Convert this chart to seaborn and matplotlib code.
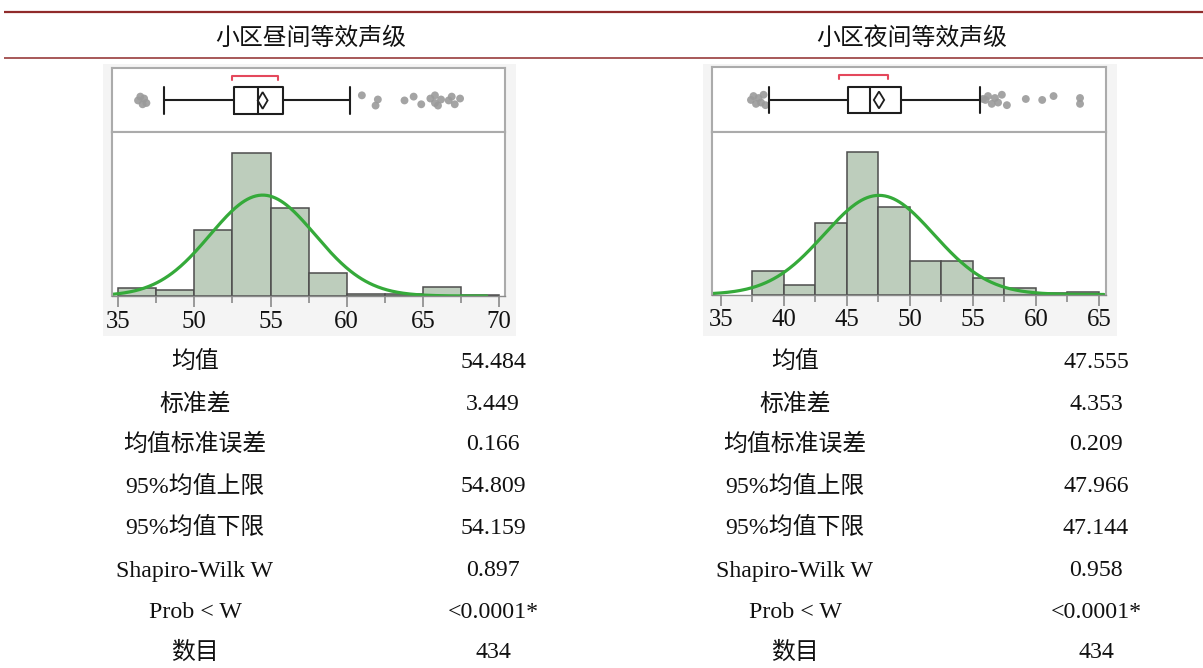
import numpy as np
import matplotlib
matplotlib.use("Agg")
import matplotlib.pyplot as plt
import seaborn as sns
from matplotlib.patches import Rectangle, Polygon

# ---------------- data ----------------
titles = ["小区昼间等效声级", "小区夜间等效声级"]

day_bin_edges = [45, 47.5, 50, 52.5, 55, 57.5, 60, 62.5, 65, 67.5, 70]
day_counts = [10, 8, 82, 178, 110, 28, 3, 3, 11, 1]
day_tick_values = [45, 50, 55, 60, 65, 70]
day_tick_labels = ["35", "50", "55", "60", "65", "70"]

night_bin_edges = [37.5, 40, 42.5, 45, 47.5, 50, 52.5, 55, 57.5, 60, 62.5, 65]
night_counts = [24, 10, 72, 143, 88, 34, 34, 17, 7, 2, 3]
night_tick_values = [35, 40, 45, 50, 55, 60, 65]
night_tick_labels = ["35", "40", "45", "50", "55", "60", "65"]

day_mean, day_sd, day_n = 54.484, 3.449, 434
night_mean, night_sd, night_n = 47.555, 4.353, 434
day_ci = [54.159, 54.809]
night_ci = [47.144, 47.966]

# box summaries: whisker low, q1, median, q3, whisker high
day_box = [48.0, 52.6, 54.2, 55.8, 60.2]
night_box = [38.8, 45.1, 46.85, 49.3, 55.6]
day_short_half = [52.5, 55.5]
night_short_half = [44.4, 48.3]
day_outliers = [46.3, 46.45, 46.6, 46.7, 46.85, 61.0, 61.9, 62.05, 63.8, 64.4, 64.9,
                65.5, 65.8, 65.8, 66.0, 66.2, 66.7, 66.9, 67.1, 67.45]
night_outliers = [37.4, 37.6, 37.8, 38.0, 38.2, 38.4, 38.55, 55.8, 56.0, 56.2, 56.5,
                  56.75, 57.0, 57.3, 57.7, 59.2, 60.5, 61.4, 63.5, 63.5]

stat_labels = ["均值", "标准差", "均值标准误差", "95%均值上限", "95%均值下限",
               "Shapiro-Wilk W", "Prob < W", "数目"]
day_stat_values = ["54.484", "3.449", "0.166", "54.809", "54.159", "0.897", "<0.0001*", "434"]
night_stat_values = ["47.555", "4.353", "0.209", "47.966", "47.144", "0.958", "<0.0001*", "434"]

# ---------------- style ----------------
sns.set_theme(style="white")
FONT = ["Liberation Serif", "Noto Sans CJK SC", "DejaVu Sans"]
plt.rcParams["font.family"] = FONT
plt.rcParams["axes.unicode_minus"] = False

W, H = 1203, 668
fig = plt.figure(figsize=(W / 100, H / 100), dpi=100)
fig.patch.set_facecolor("white")

ax0 = fig.add_axes([0, 0, 1, 1], zorder=0)
ax0.set_xlim(0, W)
ax0.set_ylim(H, 0)
ax0.axis("off")
ax0.patch.set_alpha(0)

RED = "#902b2b"
ax0.plot([4, W], [12, 12], color=RED, lw=1.6, solid_capstyle="butt")
ax0.plot([4, W], [58, 58], color=RED, lw=1.1, solid_capstyle="butt")

FS = 17.2
BASE = 7.5  # baseline offset below the row centre (px)


def px_axes(x0, y0, x1, y1, z=2):
    return fig.add_axes([x0 / W, 1 - y1 / H, (x1 - x0) / W, (y1 - y0) / H], zorder=z)


panels = [
    dict(title=titles[0], tx=311, lx=195, vx=493, bg=(103, 64, 516, 336),
         box=(112, 68, 505, 132), hist=(112, 132, 505, 296), xlim=(44.59, 70.4), ylim=(0, 204),
         edges=day_bin_edges, counts=day_counts, tv=day_tick_values, tl=day_tick_labels,
         mean=day_mean, sd=day_sd, n=day_n, ci=day_ci, bx=day_box, sh=day_short_half,
         out=day_outliers, vals=day_stat_values, curve=(44.6, 69.2)),
    dict(title=titles[1], tx=912, lx=795, vx=1096, bg=(703, 64, 1117, 336),
         box=(712, 67, 1106, 132), hist=(712, 132, 1106, 294.5), xlim=(34.31, 65.56), ylim=(0, 163),
         edges=night_bin_edges, counts=night_counts, tv=night_tick_values, tl=night_tick_labels,
         mean=night_mean, sd=night_sd, n=night_n, ci=night_ci, bx=night_box, sh=night_short_half,
         out=night_outliers, vals=night_stat_values, curve=(34.31, 65.4)),
]

FRAME = "#ababab"
jitter = [0.0, 0.06, -0.06, 0.03, -0.04, 0.08, -0.08, 0.015]
row_y = [360, 403, 443, 485, 526, 569, 610, 651]

for p in panels:
    # header
    ax0.text(p["tx"], 37 + BASE, p["title"], ha="center", va="baseline", fontsize=FS, color="#111")
    # light gray image background
    x0, y0, x1, y1 = p["bg"]
    ax0.add_patch(Rectangle((x0, y0), x1 - x0, y1 - y0, facecolor="#f4f4f4", edgecolor="none"))

    # ---- box plot panel ----
    axb = px_axes(*p["box"])
    axb.set_facecolor("white")
    axb.set_xlim(*p["xlim"])
    axb.set_ylim(0, 1)
    axb.set_xticks([])
    axb.set_yticks([])
    for s in axb.spines.values():
        s.set_visible(True)
        s.set_color(FRAME)
        s.set_linewidth(1.5)
    wl, q1, md, q3, wh = p["bx"]
    c, bw = 0.493, 0.413
    lp = dict(color="#1e1e1e", lw=1.5)
    axb.bxp([dict(med=md, q1=q1, q3=q3, whislo=wl, whishi=wh, fliers=[], label="")],
            positions=[c], widths=[bw], orientation="horizontal", showfliers=False,
            capwidths=[bw], boxprops=lp, whiskerprops=lp, capprops=lp, medianprops=lp,
            manage_ticks=False)
    lo, hi = p["ci"]
    axb.add_patch(Polygon([(lo, c), (p["mean"], c + 0.13), (hi, c), (p["mean"], c - 0.13)],
                          closed=True, fill=False, edgecolor="#1e1e1e", lw=1.3))
    s0, s1 = p["sh"]
    axb.plot([s0, s0, s1, s1], [0.815, 0.88, 0.88, 0.815], color="#e4485c", lw=1.5)
    oy = [c + jitter[i % len(jitter)] for i in range(len(p["out"]))]
    sns.scatterplot(x=p["out"], y=oy, ax=axb, color="#9a9a9a", s=32, edgecolor="none",
                    alpha=0.9, legend=False)
    axb.set_xlabel("")
    axb.set_ylabel("")

    # ---- histogram panel ----
    axh = px_axes(*p["hist"])
    axh.set_facecolor("white")
    edges = p["edges"]
    centers = [(a + b) / 2 for a, b in zip(edges[:-1], edges[1:])]
    sns.histplot(x=centers, weights=p["counts"], bins=edges, ax=axh, color="#bdcdbc",
                 edgecolor="#4d4d4d", linewidth=1.1, alpha=1.0)
    xs = np.linspace(p["curve"][0], p["curve"][1], 400)
    binw = edges[1] - edges[0]
    ys = p["n"] * binw * np.exp(-0.5 * ((xs - p["mean"]) / p["sd"]) ** 2) / (p["sd"] * np.sqrt(2 * np.pi))
    sns.lineplot(x=xs, y=ys, ax=axh, color="#35aa3a", lw=2.3)
    axh.set_xlim(*p["xlim"])
    axh.set_ylim(*p["ylim"])
    axh.set_yticks([])
    axh.set_xticks(p["tv"])
    axh.set_xticklabels(p["tl"])
    axh.set_xticks(edges, minor=True)
    axh.tick_params(axis="x", which="major", length=8, width=1.2, color="#8a8a8a",
                    labelsize=FS + 0.6, pad=2.5, bottom=True, labelcolor="#111")
    axh.tick_params(axis="x", which="minor", length=5, width=1.2, color="#8a8a8a", bottom=True)
    for lab in axh.get_xticklabels():
        lab.set_family(FONT)
    axh.set_xlabel("")
    axh.set_ylabel("")
    for name, s in axh.spines.items():
        s.set_visible(True)
        s.set_color(FRAME if name != "bottom" else "#8a8a8a")
        s.set_linewidth(1.5 if name != "bottom" else 1.0)

    # ---- statistics table ----
    for lab, val, yy in zip(stat_labels, p["vals"], row_y):
        ax0.text(p["lx"], yy + BASE, lab, ha="center", va="baseline", fontsize=FS, color="#111")
        ax0.text(p["vx"], yy + BASE, val, ha="center", va="baseline", fontsize=FS, color="#111")

fig.savefig("out.png", dpi=100, facecolor="white")
